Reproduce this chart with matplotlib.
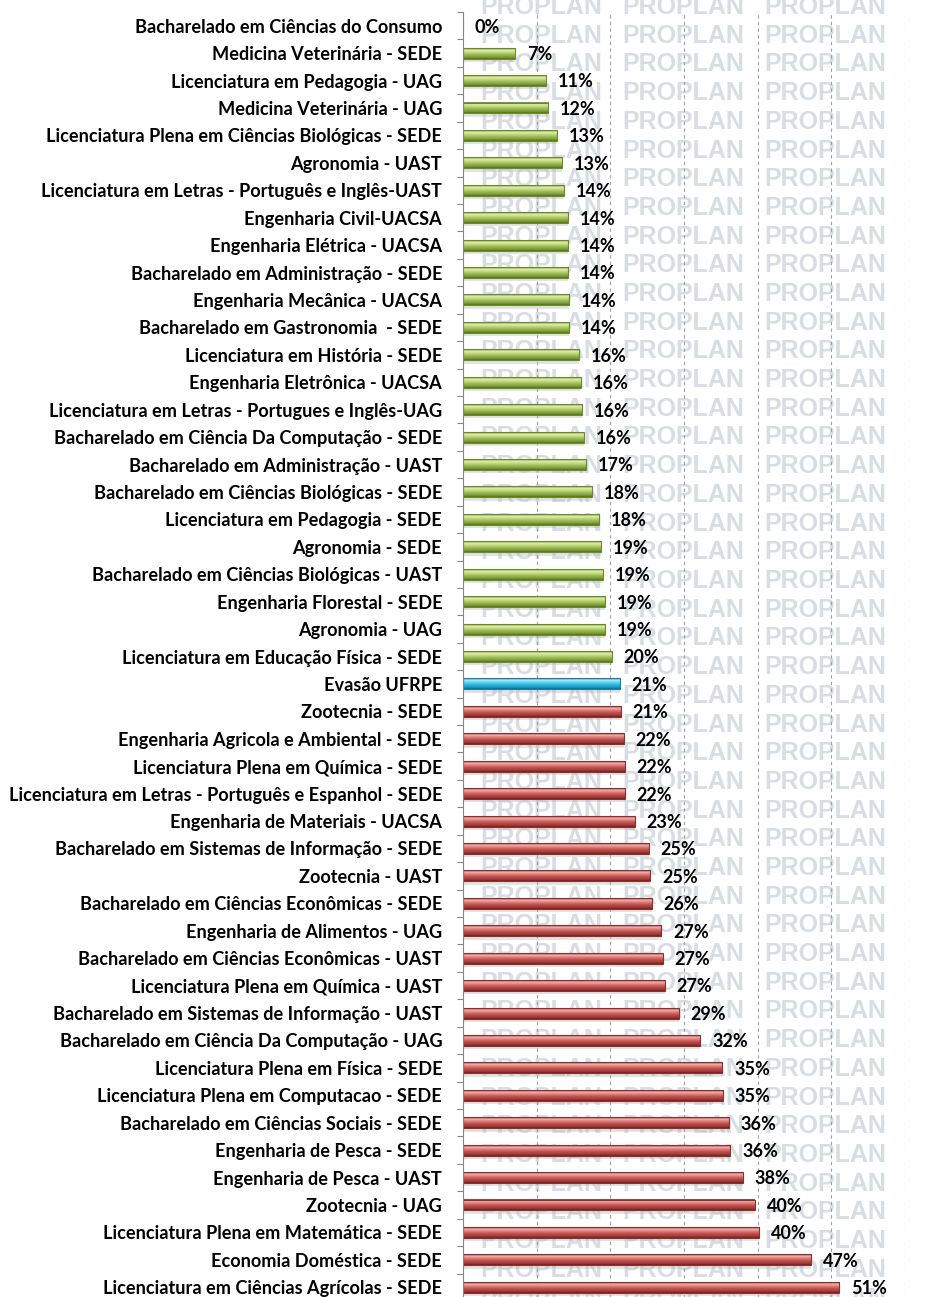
import numpy as np
import matplotlib
matplotlib.use("Agg")
import matplotlib.pyplot as plt
from matplotlib.colors import LinearSegmentedColormap

# cursos e taxa de evasão (%)
cursos = [
    "Bacharelado em Ciências do Consumo",
    "Medicina Veterinária - SEDE",
    "Licenciatura em Pedagogia - UAG",
    "Medicina Veterinária - UAG",
    "Licenciatura Plena em Ciências Biológicas - SEDE",
    "Agronomia - UAST",
    "Licenciatura em Letras - Português e Inglês-UAST",
    "Engenharia Civil-UACSA",
    "Engenharia Elétrica - UACSA",
    "Bacharelado em Administração - SEDE",
    "Engenharia Mecânica - UACSA",
    "Bacharelado em Gastronomia  - SEDE",
    "Licenciatura em História - SEDE",
    "Engenharia Eletrônica - UACSA",
    "Licenciatura em Letras - Portugues e Inglês-UAG",
    "Bacharelado em Ciência Da Computação - SEDE",
    "Bacharelado em Administração - UAST",
    "Bacharelado em Ciências Biológicas - SEDE",
    "Licenciatura em Pedagogia - SEDE",
    "Agronomia - SEDE",
    "Bacharelado em Ciências Biológicas - UAST",
    "Engenharia Florestal - SEDE",
    "Agronomia - UAG",
    "Licenciatura em Educação Física - SEDE",
    "Evasão UFRPE",
    "Zootecnia - SEDE",
    "Engenharia Agricola e Ambiental - SEDE",
    "Licenciatura Plena em Química - SEDE",
    "Licenciatura em Letras - Português e Espanhol - SEDE",
    "Engenharia de Materiais - UACSA",
    "Bacharelado em Sistemas de Informação - SEDE",
    "Zootecnia - UAST",
    "Bacharelado em Ciências Econômicas - SEDE",
    "Engenharia de Alimentos - UAG",
    "Bacharelado em Ciências Econômicas - UAST",
    "Licenciatura Plena em Química - UAST",
    "Bacharelado em Sistemas de Informação - UAST",
    "Bacharelado em Ciência Da Computação - UAG",
    "Licenciatura Plena em Física - SEDE",
    "Licenciatura Plena em Computacao - SEDE",
    "Bacharelado em Ciências Sociais - SEDE",
    "Engenharia de Pesca - SEDE",
    "Engenharia de Pesca - UAST",
    "Zootecnia - UAG",
    "Licenciatura Plena em Matemática - SEDE",
    "Economia Doméstica - SEDE",
    "Licenciatura em Ciências Agrícolas - SEDE",
]
evasao = [0.0, 7.1, 11.3, 11.6, 12.7, 13.4, 13.7, 14.3, 14.3, 14.3, 14.4, 14.4,
          15.7, 16.0, 16.2, 16.4, 16.7, 17.5, 18.4, 18.8, 19.0, 19.3, 19.3, 20.2,
          21.3, 21.4, 21.8, 22.0, 22.0, 23.3, 25.2, 25.4, 25.6, 26.9, 27.1, 27.4,
          29.3, 32.2, 35.2, 35.3, 36.1, 36.3, 38.0, 39.6, 40.2, 47.2, 51.1]
media = "Evasão UFRPE"

# cores estilo "cilindro" do excel: borda escura, brilho, base, sombra
cores = {
    "verde": ["#5f7a22", "#e2eeb0", "#c6db80", "#9bbb59", "#7b9a36", "#566f1e"],
    "azul": ["#13789a", "#b6ecfb", "#62d2f3", "#2fb9e4", "#1c95bd", "#0f6a88"],
    "vermelho": ["#7f2a28", "#f2b4b2", "#e07c79", "#c0504d", "#9c3a37", "#6e2220"],
}
bordas = {"verde": "#6b8a2a", "azul": "#1a7fa0", "vermelho": "#8a302d"}

plt.rcParams['font.family'] = ['Lato', 'DejaVu Sans']

fig = plt.figure(figsize=(9.26, 12.97), dpi=100)
ax = fig.add_axes([463 / 926, -4 / 1297, 442 / 926, 1289 / 1297])

n = len(cursos)
y = np.arange(n)
h = 0.4
ax.set_xlim(0, 60)
ax.set_ylim(n - 0.5, -0.5)

for i, v in enumerate(evasao):
    if cursos[i] == media:
        c = "azul"
    elif evasao[i] < evasao[cursos.index(media)]:
        c = "verde"
    else:
        c = "vermelho"
    cm = LinearSegmentedColormap.from_list(c, list(zip([0, 0.18, 0.38, 0.6, 0.85, 1.0], cores[c])))
    if v > 0:
        grad = np.linspace(0, 1, 64).reshape(-1, 1)
        ax.imshow(grad, cmap=cm, aspect='auto', origin='upper',
                  extent=(0, v, y[i] + h / 2, y[i] - h / 2), zorder=3, interpolation='bilinear')
        # sombra
        ax.barh(y[i] + h / 2 + 0.06, v, height=0.12, color='#b0b0b0', alpha=0.35, zorder=2, lw=0)
    ax.barh(y[i], v, height=h, fill=False, edgecolor=bordas[c], lw=0.8, zorder=4)
    ax.annotate(f"{v:.0f}%", (v, y[i]), xytext=(8.5, -1), textcoords='offset points',
                va='center', ha='left', fontsize=13, fontweight='bold', color='black', zorder=5)

ax.set_xlim(0, 60)
ax.set_ylim(n - 0.5, -0.5)

ax.set_yticks(y)
ax.set_yticklabels(cursos, fontsize=13.1, fontweight='bold')
ax.tick_params(axis='y', which='major', length=0, pad=15)
ax.set_yticks(np.arange(n + 1) - 0.5, minor=True)
ax.tick_params(axis='y', which='minor', length=4, color='#868686', width=0.8)
ax.set_xticks(np.arange(10, 61, 10))
ax.tick_params(axis='x', length=0, labelbottom=False)
ax.grid(axis='x', color='#a0a0a0', ls=(0, (3, 3)), lw=0.8)
ax.set_axisbelow(True)
for s in ['top', 'right', 'bottom']:
    ax.spines[s].set_visible(False)
ax.spines['left'].set_color('#868686')
ax.spines['left'].set_zorder(6)

# marca d'água
for k in range(46):
    yy = 1 - (7 + k * 28.7) / 1297
    for xx in [541, 683, 825]:
        ax.text(xx / 926, yy, "PROPLAN", transform=fig.transFigure, ha='center', va='center',
                fontsize=18, fontweight='bold', family='Liberation Sans', color='#d8dde5',
                zorder=0.1, clip_on=False)

fig.savefig("out.png", dpi=100)
